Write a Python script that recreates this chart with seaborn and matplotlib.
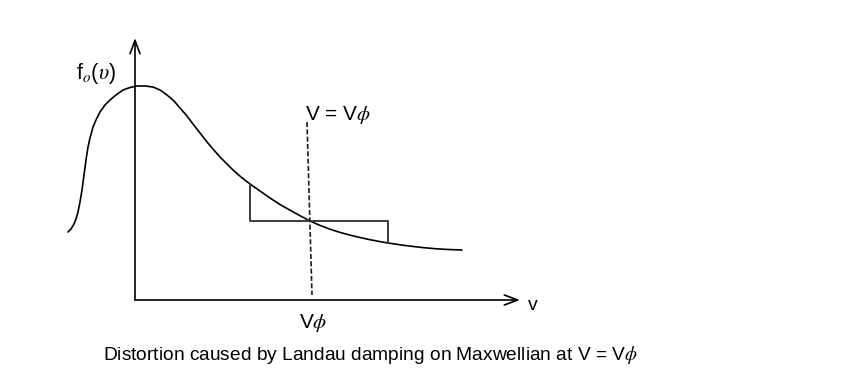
import matplotlib
matplotlib.use("Agg")
import matplotlib.pyplot as plt
import seaborn as sns
import pandas as pd

# Maxwellian-like distribution curve f_o(v) (arbitrary units)
curve_v = [-67, -64, -61, -59, -57, -55, -53, -51, -49, -47, -45, -42, -39,
           -35, -30, -25, -19, -12, -5, 2, 10, 18, 25, 32, 39, 45, 52, 58,
           65, 72, 78, 85, 92, 98, 106, 115, 125, 135, 145, 155, 165, 175,
           185, 195, 205, 215, 225, 235, 245, 253, 265, 275, 287, 300, 313,
           327]
curve_f = [68, 71, 76, 81, 88, 98, 110, 125, 140, 153, 162, 173, 180,
           188, 195, 200, 205, 210, 212.5, 214, 214, 213, 210, 205, 199,
           192, 184, 176, 167, 158, 151, 143, 136, 130, 123, 116, 109, 102,
           95.5, 89.8, 84.3, 79, 74.6, 70.8, 67.6, 64.9, 62.5, 60.3, 58.4,
           57, 55.2, 53.9, 52.5, 51.3, 50.5, 50]

# Flattened (distorted) step around V = Vphi
step_v = [115, 115, 253, 253]
step_f = [116, 79, 79, 57]

# Dashed line V = Vphi
phase_v = [172, 177]
phase_f = [178, 5]

sns.set_theme(style="white")
plt.rcParams['font.family'] = ['Liberation Sans', 'DejaVu Sans']
plt.rcParams['mathtext.fontset'] = 'stix'

fig = plt.figure(figsize=(8.41, 3.87), dpi=100)
ax = fig.add_axes([0, 0, 1, 1])
ax.set_xlim(-135, 706)
ax.set_ylim(-87, 300)
ax.axis('off')

df = pd.DataFrame({"v": curve_v, "f": curve_f})
sns.lineplot(data=df, x="v", y="f", ax=ax, color="black", lw=1.2,
             sort=False, estimator=None)
sns.lineplot(x=step_v, y=step_f, ax=ax, color="#3a3a3a", lw=1.4,
             sort=False, estimator=None)
sns.lineplot(x=phase_v, y=phase_f, ax=ax, color="#1a1a2a", lw=1.2,
             linestyle=(0, (3, 1.4)), sort=False, estimator=None)

# axes with open arrowheads
ax.annotate("", xy=(0, 262), xytext=(0, 0),
            arrowprops=dict(arrowstyle="->,head_length=0.8,head_width=0.3",
                            color="black", lw=1.2, shrinkA=0, shrinkB=0))
ax.annotate("", xy=(385, 0), xytext=(0, 0),
            arrowprops=dict(arrowstyle="->,head_length=0.8,head_width=0.3",
                            color="black", lw=1.2, shrinkA=0, shrinkB=0))

ax.text(-59, 227, r"f$_{\mathit{o}}$$\mathregular{(}\mathit{\upsilon}\mathregular{)}$",
        fontsize=15.5, ha="left", va="center", color="black")
ax.text(170, 185, r"V = V$\phi$", fontsize=15, ha="left", va="center",
        color="black")
ax.text(178, -23, r"V$\phi$", fontsize=15, ha="center", va="center",
        color="black")
ax.text(398, -5, "v", fontsize=14, ha="center", va="center",
        color="black")
ax.text(235, -55, r"Distortion caused by Landau damping on Maxwellian at V = V$\phi$",
        fontsize=13.8, ha="center", va="center", color="black")

fig.savefig("out.png", dpi=100)
